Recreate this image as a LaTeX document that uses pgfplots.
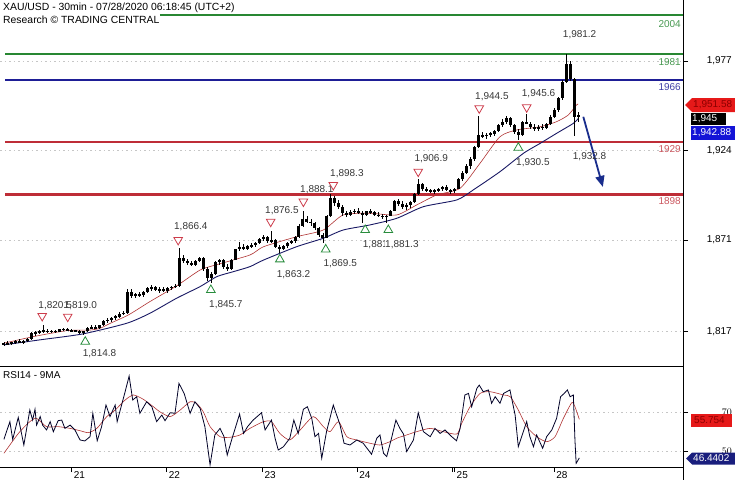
\documentclass[border=0pt]{standalone}
\usepackage{fontspec}
\setmainfont{Liberation Sans}
\usepackage{pgfplots}
\usepackage{pgfplotstable}
\pgfplotsset{compat=1.18}
\usetikzlibrary{arrows.meta}

\definecolor{lvgreen}{RGB}{40,135,50}
\definecolor{lvnavy}{RGB}{30,30,150}
\definecolor{lvred}{RGB}{190,45,55}
\definecolor{maRed}{RGB}{175,50,50}
\definecolor{maBlue}{RGB}{25,25,100}
\definecolor{triRed}{RGB}{205,60,75}
\definecolor{triGreen}{RGB}{40,140,60}
\definecolor{txtgray}{RGB}{55,55,55}
\definecolor{boxred}{RGB}{230,25,25}
\definecolor{boxredtxt}{RGB}{140,0,0}
\definecolor{boxblue}{RGB}{20,20,215}
\definecolor{boxnavy}{RGB}{25,30,125}
\definecolor{arrowblue}{RGB}{25,45,140}
\newcommand{\lab}{\fontsize{10}{12}\selectfont}

% hourly candles: t = hours from the 21st 00:00 (weekend removed)
\pgfplotstableread{
t o hi lo c
-17 1809.5 1811 1808.5 1810
-16 1810 1811.5 1809 1809.5
-15 1809.5 1811 1808.8 1810.5
-14 1810.5 1812 1809.5 1811
-13 1811 1812.5 1810 1810.5
-12 1810.5 1812 1809.8 1811.5
-11 1811.5 1813 1811 1812.5
-10 1812.5 1816.5 1812 1815.8
-9 1815.8 1817.5 1814.5 1816.5
-8 1816.5 1818 1815.5 1817
-7 1817 1820.5 1816 1817.5
-6 1817.5 1818.5 1816 1816.8
-5 1816.8 1818 1816 1817.2
-4 1817.2 1818 1816.2 1816.8
-3 1816.8 1818.5 1816.5 1818.2
-2 1818.2 1819 1817.5 1818.5
-1 1818.5 1819 1817.2 1817.6
0 1817.6 1818.3 1816.8 1817.4
1 1817.4 1818 1816.5 1817.2
2 1817.2 1817.8 1815.5 1816.3
3 1816.3 1817.5 1814.8 1817
4 1817 1819.5 1816.5 1819
5 1819 1820.5 1818.2 1819.5
6 1819.5 1820.5 1818.5 1819
7 1819 1821 1818.5 1820.5
8 1820.5 1823.5 1820 1823
9 1823 1825 1822 1824
10 1824 1825.5 1822.8 1825
11 1825 1826.5 1824 1825.8
12 1825.8 1828.5 1825 1827.5
13 1827.5 1829 1826.5 1828
14 1828 1842 1827.5 1840.5
15 1840.5 1842 1837 1838
16 1838 1840 1836.5 1839
17 1839 1840.5 1837.5 1838.5
18 1838.5 1841 1837.5 1840.5
19 1840.5 1843.5 1839.5 1842.5
20 1842.5 1844.5 1841 1843
21 1843 1844 1841 1841.5
22 1841.5 1843 1840 1842
23 1842 1843.5 1840.5 1841
24 1841 1843 1840 1842.5
25 1842.5 1844 1841.5 1843.5
26 1843.5 1845 1842.5 1844
27 1844 1866.4 1843.5 1860.5
28 1860.5 1862 1857.5 1858.5
29 1858.5 1860 1856.5 1857.5
30 1857.5 1858.5 1855.5 1856.5
31 1856.5 1859 1855.8 1858.5
32 1858.5 1861 1858 1860.5
33 1860.5 1861 1853 1854
34 1854 1855 1847 1848.5
35 1848.5 1852 1845.7 1851
36 1851 1858.5 1850.5 1858
37 1858 1860 1856.5 1859
38 1859 1860 1854 1855
39 1855 1857 1852.5 1854
40 1854 1860 1853.5 1859.5
41 1859.5 1866 1859 1865.5
42 1865.5 1870 1864.5 1867
43 1867 1868.5 1865 1866
44 1866 1868 1865 1867.5
45 1867.5 1869.5 1866.5 1868
46 1868 1870 1867 1869.5
47 1869.5 1872 1869 1871.5
48 1871.5 1874 1870.5 1872.8
49 1872.8 1873.5 1869.5 1870.5
50 1870.5 1876.5 1869.5 1871
51 1871 1871.5 1866.5 1867
52 1867 1868 1863.2 1865.5
53 1865.5 1868 1865 1867.5
54 1867.5 1870 1866.5 1869.5
55 1869.5 1871 1868.5 1870.5
56 1870.5 1873.5 1869.5 1873
57 1873 1880.5 1872.5 1879.5
58 1879.5 1888 1879 1883.5
59 1883.5 1885 1881 1882
60 1882 1883.5 1879.5 1881
61 1881 1882 1877 1878
62 1878 1879 1873 1874
63 1874 1875.5 1869.5 1872.5
64 1872.5 1886 1872 1885
65 1885 1898.3 1884.5 1896
66 1896 1897 1891 1893
67 1893 1894.5 1889.5 1890.5
68 1890.5 1892 1885.5 1887
69 1887 1888.5 1884.5 1886
70 1886 1889 1885 1887.5
71 1887.5 1889.5 1886.5 1888.5
72 1888.5 1890 1886.5 1887
73 1887 1888 1881 1886
74 1886 1888.5 1885 1888
75 1888 1889.5 1886.5 1887.5
76 1887.5 1888.5 1885.5 1886
77 1886 1887.5 1884.5 1885.5
78 1885.5 1886.5 1883.5 1884.5
79 1884.5 1886 1881.3 1885.5
80 1885.5 1889 1885 1888.5
81 1888.5 1895 1888 1894
82 1894 1895.5 1891 1892.5
83 1892.5 1894 1889.5 1890.5
84 1890.5 1893 1889 1892
85 1892 1894 1890 1893.5
86 1893.5 1899 1893 1898.5
87 1898.5 1906.9 1898 1904
88 1904 1905 1900 1901
89 1901 1902.5 1899.5 1900.5
90 1900.5 1901.5 1899 1900
91 1900 1901.5 1898.5 1900.5
92 1900.5 1902 1899.5 1901
93 1901 1903 1900 1902.5
94 1902.5 1903.5 1900 1900.5
95 1900.5 1901.5 1898.5 1900
96 1900 1902 1899 1901.5
97 1901.5 1908 1901 1907
98 1907 1912 1906 1911
99 1911 1916 1910 1915
100 1915 1920 1913 1919
101 1919 1927 1918 1926
102 1926 1944.5 1925.5 1933
103 1933 1935 1931.5 1932.5
104 1932.5 1934.5 1931 1933.5
105 1933.5 1935 1932 1934
106 1934 1936 1932.5 1935.5
107 1935.5 1940 1935 1939
108 1939 1942.5 1938 1941
109 1941 1944.5 1940 1943
110 1943 1944 1938 1939
111 1939 1940 1934 1935
112 1935 1937 1930.5 1933
113 1933 1941.5 1932.5 1941
114 1941 1945.6 1939.5 1940
115 1940 1941 1937 1938
116 1938 1939.5 1935.5 1937
117 1937 1939 1935.5 1938
118 1938 1940 1936 1937.5
119 1937.5 1940.5 1936.5 1939.5
120 1939.5 1945 1939 1944
121 1944 1949 1943 1948
122 1948 1956 1947 1955
123 1955 1966 1954 1964.5
124 1964.5 1981.2 1964 1975.5
125 1975.5 1977 1965 1966.5
126 1966.5 1967 1932.8 1944
127 1944 1947 1941 1945
}\candles

\pgfplotstableread{
t v
-17 1810.0
-9.6 1813.9
-1.3 1817.4
4.6 1817.8
7.1 1818.8
9.6 1821.7
14.2 1826.7
19.6 1834.6
26.3 1843.9
32.2 1853.3
36.4 1856.5
44.7 1862.2
48.1 1867.1
56.4 1873.0
63.1 1877.0
68.1 1885.9
74.8 1886.9
81.5 1885.9
86.5 1891.8
91.5 1897.7
97.4 1901.7
102.4 1916.5
107.4 1932.2
111.6 1936.2
117.5 1938.1
121.6 1941.1
124.5 1945.0
126.6 1951.0
127 1951.6
}\maRedTab

\pgfplotstableread{
t v
-17 1809.0
-7.9 1812.0
2.8 1815.5
13.8 1821.8
19.6 1827.7
26.3 1836.6
32.2 1843.5
36.4 1849.4
40.5 1852.3
44.7 1855.3
48.1 1859.2
56.4 1867.1
63.1 1872.1
68.1 1877.0
74.8 1880.0
81.5 1883.9
88.2 1890.8
96.6 1894.8
100.7 1900.7
107.4 1911.5
113.3 1922.4
117.5 1928.3
121.6 1934.2
125.8 1940.1
127 1942.9
}\maBlueTab

\pgfplotstableread{
t v
-17.0 56.0
-15.5 65.2
-14.8 56.0
-13.4 67.4
-12.0 53.1
-10.5 71.2
-9.8 66.0
-9.2 71.6
-8.8 63.4
-7.9 67.8
-7.3 63.4
-6.3 60.9
-5.4 65.2
-4.6 60.0
-3.4 65.7
-2.5 66.0
-1.7 61.7
-0.4 63.4
0.8 60.9
2.1 55.7
3.3 55.2
4.6 57.4
5.3 69.5
6.4 55.3
7.5 62.6
8.6 73.8
9.6 67.8
10.9 73.8
11.4 65.2
13.4 80.7
14.4 88.8
15.3 76.4
16.3 78.1
17.1 69.5
18.8 75.5
20.1 72.9
21.3 65.2
22.6 68.6
23.4 65.7
24.7 69.8
25.9 69.5
26.9 85.0
28.2 79.8
29.7 69.5
30.9 75.5
32.2 72.1
33.4 62.6
34.7 42.8
35.9 58.3
37.2 61.7
38.2 57.4
39.0 47.9
40.1 55.7
42.1 69.1
43.1 59.1
44.1 62.6
45.5 66.0
47.6 69.8
48.5 60.9
50.1 66.0
51.0 56.6
51.8 50.5
53.1 52.2
54.7 56.6
55.7 66.0
56.8 59.1
58.1 71.6
59.1 72.9
60.2 66.9
61.0 57.4
61.9 59.1
62.7 46.2
63.9 60.0
65.6 73.8
67.3 63.4
68.3 54.0
69.8 53.1
71.5 55.7
73.1 54.0
75.2 48.3
76.5 56.6
77.3 58.3
78.2 48.8
79.0 47.1
80.2 56.6
81.3 66.0
82.3 61.7
83.2 58.8
84.0 49.7
85.7 55.7
86.9 69.8
88.2 60.0
89.9 57.4
91.1 61.7
92.4 59.1
93.6 60.9
95.3 57.4
96.5 55.3
97.4 61.7
98.6 79.0
99.5 79.8
100.3 72.9
101.6 82.4
102.2 84.1
103.2 80.7
104.5 81.6
105.3 74.7
106.2 78.1
107.4 74.7
108.3 79.8
109.9 81.6
111.2 68.6
112.0 52.2
114.1 65.2
114.9 57.4
115.8 52.2
116.6 58.3
118.1 51.4
119.1 57.4
120.4 60.9
121.6 66.9
122.6 78.1
123.5 79.8
124.3 81.6
125.0 78.1
125.8 79.0
126.2 55.7
126.5 43.6
127.3 46.4
}\rsiTab

\pgfplotstableread{
t v
-17.0 48.8
-14.6 55.7
-13.0 60.0
-10.5 65.2
-8.8 66.9
-6.3 62.6
-3.4 62.6
-0.4 61.7
2.1 60.5
4.2 59.5
6.3 61.7
8.8 67.8
10.9 71.2
13.4 76.4
15.5 79.0
18.0 76.7
20.5 72.9
22.1 70.3
24.7 67.8
27.2 71.2
29.7 75.5
31.3 74.7
33.0 70.3
34.7 62.6
37.2 57.4
39.7 57.1
42.2 58.3
44.7 61.7
48.1 65.2
50.1 65.2
52.2 59.1
54.7 55.7
57.3 60.9
60.6 67.8
63.1 62.6
64.8 60.0
66.9 65.2
69.0 57.4
71.5 55.7
74.8 54.0
77.3 53.1
79.8 54.8
81.5 56.6
84.0 58.3
86.5 60.0
89.9 61.7
93.2 60.0
96.6 58.8
97.8 64.3
99.9 72.9
102.4 79.8
104.9 80.7
108.3 79.0
110.0 78.1
112.0 71.2
114.1 62.6
116.6 57.4
119.1 54.8
121.2 57.4
123.3 66.9
125.4 75.0
126.2 72.9
127.3 66.4
}\rsiMaTab

\begin{document}
\begin{tikzpicture}
\useasboundingbox (0pt,0pt) rectangle (735pt,-480pt);

% ---------------- main price panel ----------------
\begin{axis}[
  at={(0pt,-366pt)}, anchor=south west,
  scale only axis, width=683pt, height=366pt,
  xmin=-17.98, xmax=153.3, ymin=1796.5, ymax=2013.1,
  axis line style={draw=none},
  xtick=\empty,
  ytick={1817,1871,1924,1977},
  ytick pos=right, yticklabel pos=right,
  tick align=outside, major tick length=5pt,
  tick style={black, line width=0.7pt},
  ymajorgrids, grid style={gray!45, dash pattern=on 1.5pt off 3pt},
  yticklabel style={anchor=east, inner sep=0pt, xshift=44pt, font=\lab},
  /pgf/number format/.cd, 1000 sep={,}, assume math mode=true,
]
% level lines
\addplot[lvgreen, line width=2pt] coordinates {(22.1,2004) (153.3,2004)};
\addplot[lvgreen, line width=2pt] coordinates {(-16.7,1981) (153.3,1981)};
\addplot[lvnavy, line width=2pt] coordinates {(-16.7,1966) (153.3,1966)};
\addplot[lvred, line width=2.2pt] coordinates {(-16.7,1929) (153.3,1929)};
\addplot[lvred, line width=2.2pt] coordinates {(-16.7,1898) (153.3,1898)};
% moving averages
\addplot[maBlue, line width=0.9pt, smooth, tension=0.4] table[x=t,y=v]{\maBlueTab};
\addplot[maRed, line width=0.6pt, smooth, tension=0.4] table[x=t,y=v]{\maRedTab};
% candles: wicks and bodies
\addplot[draw=none, mark=none, error bars/.cd, y dir=both, y explicit, error mark=none,
  error bar style={draw=black, line width=0.8pt}]
  table[x=t, y expr={(\thisrow{hi}+\thisrow{lo})/2}, y error expr={(\thisrow{hi}-\thisrow{lo})/2}]{\candles};
\addplot[draw=none, mark=none, error bars/.cd, y dir=both, y explicit, error mark=none,
  error bar style={draw=black, line width=3pt}]
  table[x=t, y expr={(\thisrow{o}+\thisrow{c})/2}, y error expr={max(abs(\thisrow{c}-\thisrow{o})/2,0.35)}]{\candles};
% forecast arrow
\addplot[arrowblue, line width=1.8pt, -{Triangle[width=9pt,length=11pt]}] coordinates {(128.3,1944) (133.2,1902.5)};
% value labels
\begin{scope}[every node/.style={anchor=west, inner sep=0pt, text=txtgray, font=\lab}]
\node at (axis cs:-8.38,1832.2) {1,820.5};
\node at (axis cs:-2.06,1832.2) {1,819.0};
\node at (axis cs:2.76,1803.6) {1,814.8};
\node at (axis cs:25.65,1879.0) {1,866.4};
\node at (axis cs:34.43,1832.6) {1,845.7};
\node at (axis cs:48.48,1888.4) {1,876.5};
\node at (axis cs:51.41,1850.4) {1,863.2};
\node at (axis cs:57.25,1901.1) {1,888.1};
\node at (axis cs:64.78,1910.5) {1,898.3};
\node at (axis cs:63.1,1856.9) {1,869.5};
\node at (axis cs:72.98,1868.5) {1,881.3};
\node[fill=white] at (axis cs:78.57,1868.5) {1,881.3};
\node at (axis cs:85.92,1919.4) {1,906.9};
\node at (axis cs:101.14,1955.9) {1,944.5};
\node at (axis cs:112.85,1957.5) {1,945.6};
\node at (axis cs:111.42,1917.1) {1,930.5};
\node at (axis cs:123.14,1992.4) {1,981.2};
\node at (axis cs:125.64,1920.4) {1,932.8};
\end{scope}
% swing markers
\addplot[only marks, mark=triangle*, mark size=5pt,
  mark options={rotate=180, fill=white, draw=triRed, line width=0.8pt}]
  coordinates {(-7.4,1826.1) (-1.0,1825.7) (26.7,1871.1) (49.9,1881.9) (58.1,1893.8)
               (65.6,1903.6) (86.9,1911.5) (102.2,1949.0) (114.1,1949.6)};
\addplot[only marks, mark=triangle*, mark size=5pt,
  mark options={fill=white, draw=triGreen, line width=0.8pt}]
  coordinates {(3.4,1810.9) (34.9,1841.5) (52.2,1859.6) (63.7,1865.5) (73.6,1877.0)
               (79.4,1877.0) (112.0,1925.7)};
\end{axis}

% ---------------- RSI panel ----------------
\begin{axis}[
  at={(0pt,-467pt)}, anchor=south west,
  scale only axis, width=683pt, height=101pt,
  xmin=-17.98, xmax=153.3, ymin=41.7, ymax=94,
  axis line style={draw=none},
  xtick={0,23.8,47.8,71.6,96,121},
  xticklabels={21,22,23,24,25,28},
  extra x ticks={95.5}, extra x tick labels={},
  xtick pos=bottom,
  ytick={50,70},
  ytick pos=right, yticklabel pos=right,
  tick align=outside, major tick length=5pt,
  tick style={black, line width=0.7pt},
  ymajorgrids, grid style={gray!45, dash pattern=on 1.5pt off 3pt},
  xticklabel style={anchor=north west, inner sep=0pt, xshift=2pt, yshift=1pt, font=\lab},
  yticklabel style={anchor=east, inner sep=0pt, xshift=44pt, font=\lab},
]
\addplot[maRed, line width=0.6pt, smooth, tension=0.4] table[x=t,y=v]{\rsiMaTab};
\addplot[black!85!blue, line width=0.8pt] table[x=t,y=v]{\rsiTab};
\end{axis}

% frame lines
\draw[line width=0.8pt] (683pt,0pt) -- (683pt,-480pt);
\draw[line width=0.8pt] (0pt,-366pt) -- (683pt,-366pt);
\draw[line width=0.8pt] (0pt,-467pt) -- (683pt,-467pt);

% header texts
\node[anchor=west, inner sep=0pt, font=\fontsize{10.4}{12}\selectfont] at (3pt,-7.5pt) {XAU/USD - 30min - 07/28/2020 06:18:45 (UTC+2)};
\node[anchor=west, inner sep=0pt, font=\fontsize{10.4}{12}\selectfont] at (3pt,-20pt) {Research © TRADING CENTRAL};
\node[anchor=west, inner sep=0pt, font=\lab] at (3pt,-375pt) {RSI14 - 9MA};

% level labels
\begin{scope}[every node/.style={anchor=east, inner sep=0pt, font=\lab}]
\node[text=lvgreen!85!white] at (681pt,-24pt) {2004};
\node[text=lvgreen!85!white] at (681pt,-61.7pt) {1981};
\node[text=lvnavy!85!white] at (681pt,-87.3pt) {1966};
\node[text=lvred!80!white] at (681pt,-149pt) {1929};
\node[text=lvred!80!white] at (681pt,-201pt) {1898};
\end{scope}

% value boxes
\fill[boxred] (685pt,-105pt) -- (692pt,-98pt) -- (735pt,-98pt) -- (735pt,-112pt) -- (692pt,-112pt) -- cycle;
\node[text=boxredtxt, inner sep=0pt, anchor=west, font=\lab] at (693pt,-105pt) {1,951.58};
\fill[black] (690.5pt,-112.5pt) rectangle (726pt,-124.5pt);
\node[text=white, inner sep=0pt, anchor=west, font=\lab] at (692pt,-118.5pt) {1,945};
\fill[boxblue] (690.5pt,-125.5pt) rectangle (735pt,-139.5pt);
\node[text=white, inner sep=0pt, anchor=west, font=\lab] at (692pt,-132.5pt) {1,942.88};

\fill[boxred] (690.5pt,-414pt) rectangle (732pt,-427pt);
\node[text=boxredtxt, inner sep=0pt, anchor=west, font=\lab] at (694pt,-420.5pt) {55.754};
\fill[boxnavy] (686pt,-458.5pt) -- (692pt,-452.5pt) -- (735pt,-452.5pt) -- (735pt,-464.5pt) -- (692pt,-464.5pt) -- cycle;
\node[text=white, inner sep=0pt, anchor=west, font=\lab] at (693pt,-458.5pt) {46.4402};
\end{tikzpicture}
\end{document}
